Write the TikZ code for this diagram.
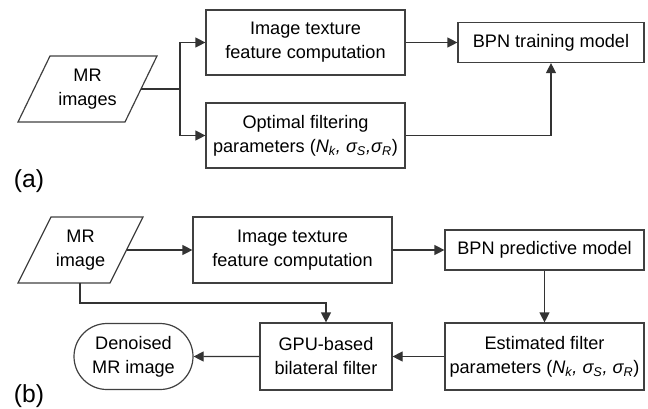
\documentclass[tikz,border=0pt]{standalone}
\usepackage{fontspec}
\setmainfont{Liberation Sans}
\usetikzlibrary{arrows.meta,shapes.misc}

\begin{document}
\begin{tikzpicture}[x=0.75pt,y=0.75pt,yscale=-1,xscale=1,
  box/.style={draw=black!75,line width=0.9pt,align=center,inner sep=0pt,font=\fontsize{13.6}{18}\selectfont},
  txt/.style={align=center,inner sep=0pt,font=\fontsize{13.6}{18}\selectfont},
  ln/.style={draw=black!80,line width=0.9pt},
  arr/.style={ln,-{Triangle[length=7.5pt,width=7.5pt]}},
  lab/.style={inner sep=0pt,font=\fontsize{18.5}{22}\selectfont}]
\useasboundingbox (0,0) rectangle (648,408);
% (a)
\draw [draw=black!75,line width=0.9pt] (18,122) -- (50,56) -- (157,56) -- (125,122) -- cycle ;
\node [txt] (mra) at (87.5,89) {MR\\images};
\coordinate (mraout) at (141,89);
\coordinate (spla) at (180,89);
\node [box,minimum width=149.25pt,minimum height=48.75pt] (texa) at (305.5,42.5) {Image texture\\feature computation};
\node [box,minimum width=149.25pt,minimum height=48.75pt] (opta) at (305.5,135.5) {Optimal filtering\\parameters ({\itshape N\textsubscript{k}, σ\textsubscript{S},σ\textsubscript{R}})};
\node [box,minimum width=139.5pt,minimum height=30pt] (bpna) at (551,42.5) {BPN training model};
\node [lab] (laba) at (29,181) {(a)};
\draw [ln] (mraout) -- (spla);
\draw [arr] (spla) |- (texa.west);
\draw [arr] (spla) |- (opta.west);
\draw [arr] (texa) -- (bpna);
\draw [arr] (opta) -| (bpna);
% (b)
\draw [draw=black!75,line width=0.9pt] (18,283) -- (51,217) -- (143,217) -- (110,283) -- cycle ;
\node [txt] (mrb) at (80.5,250) {MR\\image};
\coordinate (mrbout) at (126.5,250);
\coordinate (mrbdown) at (80,283);
\coordinate (mrbbend) at (80,303);
\node [box,minimum width=149.25pt,minimum height=49.5pt] (texb) at (292.5,250) {Image texture\\feature computation};
\node [box,minimum width=149.25pt,minimum height=30pt] (bpnb) at (544.5,250) {BPN predictive model};
\node [box,minimum width=149.25pt,minimum height=50.25pt] (estb) at (544.5,356.5) {Estimated filter\\parameters ({\itshape N\textsubscript{k}, σ\textsubscript{S}, σ\textsubscript{R}})};
\node [box,minimum width=99pt,minimum height=50.25pt] (gpub) at (326,356.5) {GPU-based\\bilateral filter};
\node [box,rounded rectangle,minimum width=89.25pt,minimum height=49.5pt] (denb) at (133.5,356.5) {Denoised\\MR image};
\node [lab] (labb) at (29,396) {(b)};
\draw [arr] (mrbout) -- (texb);
\draw [arr] (texb) -- (bpnb);
\draw [arr] (bpnb) -- (estb);
\draw [arr] (estb) -- (gpub);
\draw [arr] (gpub) -- (denb);
\draw [arr] (mrbdown) -- (mrbbend) -| (gpub.north);
\end{tikzpicture}
\end{document}
